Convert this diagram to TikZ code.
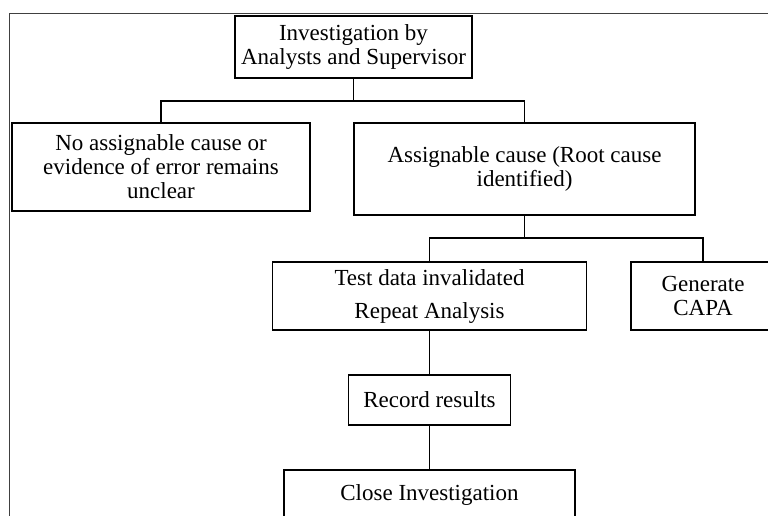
\documentclass[tikz,border=0pt]{standalone}
\usepackage{fontspec}
\setmainfont{Liberation Serif}
\begin{document}
\begin{tikzpicture}[x=1pt,y=-1pt,
  box/.style={draw=black,line width=1.4pt,rectangle,inner sep=0pt,align=center,
    font=\fontsize{23}{24}\selectfont},
  link/.style={draw=black,line width=1.4pt},
  frameline/.style={draw=black!75,line width=1pt}]
\useasboundingbox (0,0) rectangle (768,515);
\clip (0,0) rectangle (768,515);

% outer frame (open to the right and bottom)
\draw[frameline] (9,530) -- (9,13) -- (780,13);

% boxes
\node[box,minimum width=237pt,minimum height=62pt] (inv) at (353.5,47)
  {Investigation by\\Analysts and Supervisor};
\node[box,minimum width=298pt,minimum height=88pt] (noc) at (161,167)
  {No assignable cause or\\evidence of error remains\\unclear};
\node[box,minimum width=341pt,minimum height=92pt] (ac) at (524.5,169)
  {Assignable cause (Root cause\\identified)};
\node[box,minimum width=314pt,minimum height=68pt,
  font=\fontsize{23}{33}\selectfont] (test) at (429.5,296)
  {Test data invalidated\\Repeat Analysis};
\node[box,minimum width=144pt,minimum height=68pt] (capa) at (703,296)
  {Generate\\CAPA};
\node[box,minimum width=162pt,minimum height=50pt] (rec) at (429.5,400)
  {Record results};
\node[box,minimum width=291pt,minimum height=50pt] (close) at (429.5,495)
  {Close Investigation};

% junction points of the branching connectors
\coordinate (j1) at (353.5,101);
\coordinate (j2) at (524.5,238);

% connectors
\draw[link] (inv.south) -- (j1);
\draw[link] (noc.north) |- (j1) -| (ac.north);
\draw[link] (ac.south) -- (j2);
\draw[link] (test.north) |- (j2) -| (capa.north);
\draw[link] (test.south) -- (rec.north);
\draw[link] (rec.south) -- (close.north);
\end{tikzpicture}
\end{document}
